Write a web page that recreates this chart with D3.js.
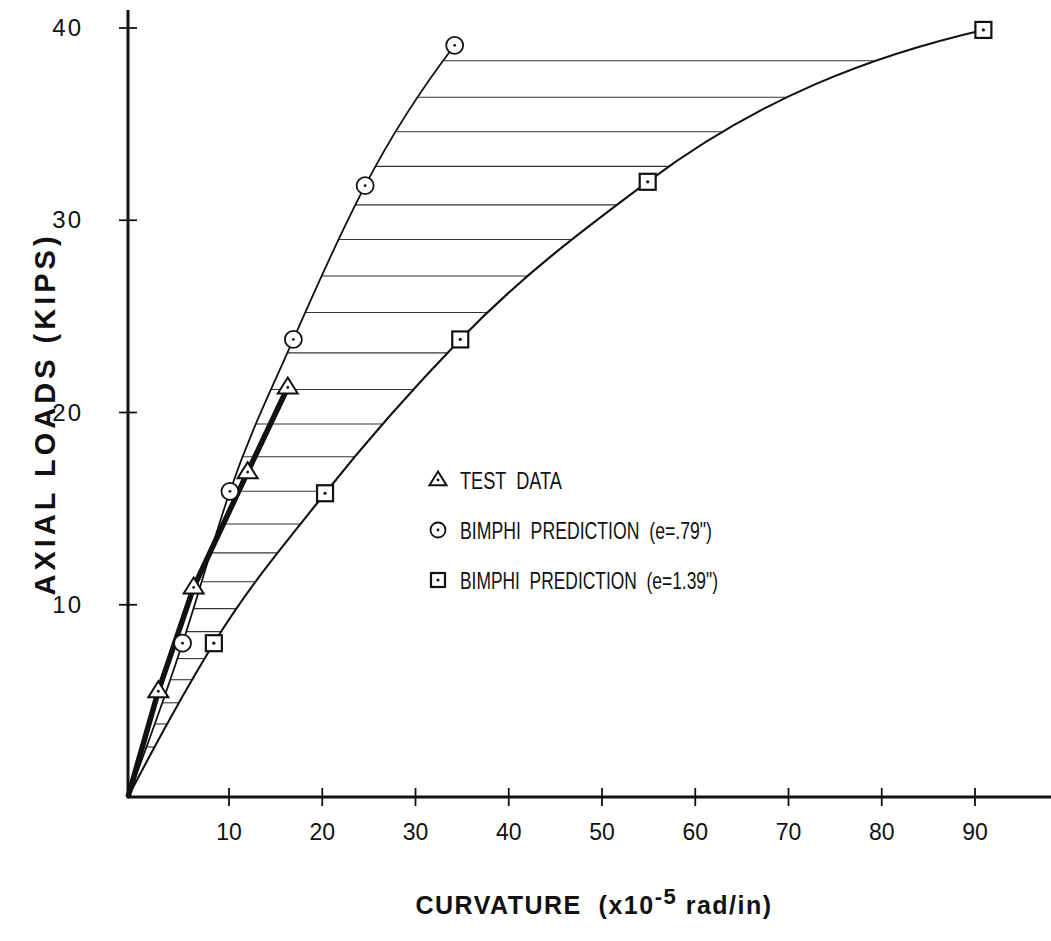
<!DOCTYPE html>
<html>
<head>
<meta charset="utf-8">
<script src="https://cdn.jsdelivr.net/npm/d3@7"></script>
<style>
    body { margin: 0; background: #fff; }
    text { font-family: "Liberation Sans", "DejaVu Sans", sans-serif; fill: #111; }
</style>
</head>
<body>
<svg id="chart" width="1051" height="941"></svg>
<script>
// Values (curvature x10^-5 rad/in, axial load kips)
const testData = [[0, 0], [3.0, 5.5], [6.5, 10.9], [12.0, 16.9], [16.3, 21.3]];
const predE079 = [[0, 0], [5.4, 8.0], [10.1, 15.9], [16.9, 23.8], [24.6, 31.8], [34.2, 39.1]];
const predE139 = [[0, 0], [8.5, 8.0], [20.3, 15.8], [34.8, 23.8], [54.9, 32.0], [90.9, 39.9]];
const hatchLevels = [38.3, 36.4, 34.6, 32.8, 30.8, 29.0, 27.1, 25.2, 23.1, 21.2, 19.4, 17.7,
                     15.9, 14.2, 12.7, 11.2, 9.8, 8.6, 7.2, 6.1, 4.9, 3.8, 2.6];
const xTicks = [10, 20, 30, 40, 50, 60, 70, 80, 90];
const yTicks = [10, 20, 30, 40];
const legendLabels = ['TEST  DATA', 'BIMPHI  PREDICTION  (e=.79")', 'BIMPHI  PREDICTION  (e=1.39")'];

const svg = d3.select('#chart');
// hand-drawn axis: first division is a little wider than the rest
const x = d3.scaleLinear().domain([0, 10, 90]).range([128, 229, 975]);
const y = d3.scaleLinear().domain([0, 40]).range([797, 28]);

// French-curve style spline: interior tangents lean toward the shorter chord,
// end tangents flatten off like the hand-drawn curves
function frenchCurve(data) {
    const p = data.map(d => [x(d[0]), y(d[1])]);
    const n = p.length;
    const h = d3.range(n - 1).map(i => p[i + 1][0] - p[i][0]);
    const s = d3.range(n - 1).map(i => (p[i + 1][1] - p[i][1]) / h[i]);
    const m = new Array(n);
    for (let i = 1; i < n - 1; i++) {
        const w0 = h[i] * h[i], w1 = h[i - 1] * h[i - 1];
        m[i] = (s[i - 1] * w0 + s[i] * w1) / (w0 + w1);
    }
    m[0] = 1.75 * s[0] - 0.75 * m[1];
    m[n - 1] = 1.75 * s[n - 2] - 0.75 * m[n - 2];
    const path = d3.path();
    path.moveTo(p[0][0], p[0][1]);
    for (let i = 0; i < n - 1; i++) {
        const dx = h[i] / 3;
        path.bezierCurveTo(p[i][0] + dx, p[i][1] + m[i] * dx,
                           p[i + 1][0] - dx, p[i + 1][1] - m[i + 1] * dx,
                           p[i + 1][0], p[i + 1][1]);
    }
    return path.toString();
}

// Sample a drawn path so hatch lines can stop on the curves
function sampler(pathNode) {
    const len = pathNode.getTotalLength();
    const pts = d3.range(0, 801).map(i => pathNode.getPointAtLength(len * i / 800));
    return py => {
        for (let i = 1; i < pts.length; i++) {
            const a = pts[i - 1], b = pts[i];
            if ((a.y - py) * (b.y - py) <= 0 && a.y !== b.y) {
                return a.x + (b.x - a.x) * (py - a.y) / (b.y - a.y);
            }
        }
        return null;
    };
}

const curveGroup = svg.append('g');
const leftPath = curveGroup.append('path')
    .attr('d', frenchCurve(predE079)).attr('fill', 'none').attr('stroke', '#111').attr('stroke-width', 1.8);
const rightPath = curveGroup.append('path')
    .attr('d', frenchCurve(predE139)).attr('fill', 'none').attr('stroke', '#111').attr('stroke-width', 2.1);

const leftAt = sampler(leftPath.node()), rightAt = sampler(rightPath.node());

// Hatching between the two prediction curves
svg.insert('g', ':first-child')
    .selectAll('line')
    .data(hatchLevels)
    .enter()
    .append('line')
    .attr('x1', d => leftAt(y(d)))
    .attr('x2', d => rightAt(y(d)))
    .attr('y1', d => y(d))
    .attr('y2', d => y(d))
    .attr('stroke', '#333')
    .attr('stroke-width', 1.1);

// Test data: heavy line
svg.append('path').datum(testData)
    .attr('d', d3.line().x(d => x(d[0])).y(d => y(d[1])))
    .attr('fill', 'none').attr('stroke', '#111').attr('stroke-width', 5.5)
    .attr('stroke-linejoin', 'round');

// Axes drawn as in the hand plot: heavy lines with crossing ticks
const axes = svg.append('g').attr('stroke', '#111');
axes.append('line').attr('x1', x(0)).attr('x2', 1051).attr('y1', y(0)).attr('y2', y(0)).attr('stroke-width', 3);
axes.append('line').attr('x1', x(0)).attr('x2', x(0)).attr('y1', y(0) + 1.5).attr('y2', 10).attr('stroke-width', 3);
axes.selectAll('.xt').data(xTicks).enter().append('line')
    .attr('x1', d => x(d)).attr('x2', d => x(d)).attr('y1', y(0) - 9).attr('y2', y(0) + 9).attr('stroke-width', 1.8);
axes.selectAll('.yt').data(yTicks).enter().append('line')
    .attr('x1', x(0) - 9).attr('x2', x(0) + 9).attr('y1', d => y(d)).attr('y2', d => y(d)).attr('stroke-width', 1.8);

svg.append('g').selectAll('text').data(xTicks).enter().append('text')
    .attr('x', d => x(d)).attr('y', 840)
    .attr('text-anchor', 'middle').style('font-size', '23px')
    .text(d => d);
svg.append('g').selectAll('text').data(yTicks).enter().append('text')
    .attr('x', 83).attr('y', d => y(d) + 8)
    .attr('text-anchor', 'end').style('font-size', '24px').style('letter-spacing', '2px')
    .text(d => d);

// Axis titles
svg.append('text')
    .attr('transform', `translate(${55}, ${414}) rotate(-90)`)
    .attr('text-anchor', 'middle')
    .style('font-size', '29px').style('font-weight', 'bold').style('letter-spacing', '4px')
    .text('AXIAL LOADS (KIPS)');

const xTitle = svg.append('text')
    .attr('x', 594).attr('y', 914)
    .attr('text-anchor', 'middle')
    .style('font-size', '25px').style('font-weight', 'bold').style('letter-spacing', '1.5px')
    .attr('xml:space', 'preserve');
xTitle.append('tspan').text('CURVATURE  (x10');
xTitle.append('tspan').attr('dy', -10).style('font-size', '22px').text('-5');
xTitle.append('tspan').attr('dy', 10).text(' rad/in)');

// Markers
function triangle(g, s) {
    const h = s * 0.8;
    g.append('path').attr('d', `M0,${-h * 0.62}L${s / 2},${h * 0.38}L${-s / 2},${h * 0.38}Z`)
        .attr('fill', '#fff').attr('stroke', '#111').attr('stroke-width', 2);
    g.append('circle').attr('r', 1.4).attr('fill', '#111');
}
function ring(g, r) {
    g.append('circle').attr('r', r).attr('fill', '#fff').attr('stroke', '#111').attr('stroke-width', 1.8);
    g.append('circle').attr('r', 1.4).attr('fill', '#111');
}
function box(g, s) {
    g.append('rect').attr('x', -s / 2).attr('y', -s / 2).attr('width', s).attr('height', s)
        .attr('fill', '#fff').attr('stroke', '#111').attr('stroke-width', 2.2);
    g.append('circle').attr('r', 1.6).attr('fill', '#111');
}

svg.append('g').selectAll('g').data(testData.slice(1)).enter().append('g')
    .attr('transform', d => `translate(${x(d[0])}, ${y(d[1])})`)
    .each(function() { triangle(d3.select(this), 20); });
svg.append('g').selectAll('g').data(predE079.slice(1)).enter().append('g')
    .attr('transform', d => `translate(${x(d[0])}, ${y(d[1])})`)
    .each(function() { ring(d3.select(this), 8.5); });
svg.append('g').selectAll('g').data(predE139.slice(1)).enter().append('g')
    .attr('transform', d => `translate(${x(d[0])}, ${y(d[1])})`)
    .each(function() { box(d3.select(this), 16); });

// Legend (text squeezed to the narrow hand lettering)
const legendWidths = [102, 252, 258];
const legend = svg.append('g').attr('transform', 'translate(438, 480)');
const markers = [g => triangle(g, 17), g => ring(g, 7.5), g => box(g, 14)];
legendLabels.forEach((label, i) => {
    const row = legend.append('g').attr('transform', `translate(0, ${i * 50})`);
    markers[i](row);
    row.append('text').attr('x', 22).attr('y', 9)
        .attr('xml:space', 'preserve')
        .attr('textLength', legendWidths[i]).attr('lengthAdjust', 'spacingAndGlyphs')
        .style('font-size', '24px')
        .text(label);
});
</script>
</body>
</html>
